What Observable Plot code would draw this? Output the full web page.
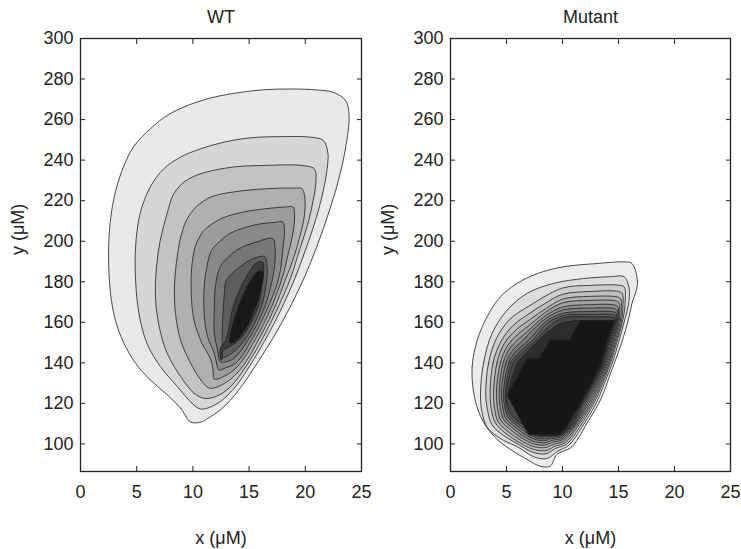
<!DOCTYPE html>
<html><head><meta charset="utf-8">
<script src="https://cdn.jsdelivr.net/npm/d3@7"></script>
<script src="https://cdn.jsdelivr.net/npm/@observablehq/plot@0.6"></script>
<style>
body{margin:0;background:#fff;}
#wrap{display:flex;width:741px;height:549px;overflow:hidden;background:#fff;}
#wrap svg{overflow:visible;}
</style></head><body><div id="wrap"></div>
<script>
const xTicks = [0, 5, 10, 15, 20, 25];
const yTicks = [100, 120, 140, 160, 180, 200, 220, 240, 260, 280, 300];

// ---- WT contour levels (outer -> inner), [x, y] vertices
const wt1 = [[9.8,110.8],[8.9,117.7],[7.7,124.3],[6.2,131.6],[4.9,139.8],[3.86,149.7],[3.1,161.1],[2.67,174.3],[2.5,190.7],[2.6,207],[3.0,221.8],[3.7,234.9],[4.7,246.4],[6.2,255.4],[7.7,262],[9.5,266.9],[11.6,270.7],[13.6,272.9],[16.0,274.6],[18.7,275.1],[21.1,274.6],[22.5,273.4],[23.6,269.3],[23.9,262],[23.7,250],[23.3,238],[22.7,225],[21.9,211],[21.0,197],[19.9,182],[18.6,167],[17.1,152],[15.5,138],[14.0,126],[12.6,117.5],[11.3,112.5],[10.7,110.8]];
const wt2 = [[10.7,117.2],[9.9,120.2],[8.6,128.4],[7.1,138.2],[5.9,149.7],[5.2,164.4],[4.9,180.8],[4.9,197.2],[5.3,213.6],[6.2,226.7],[7.4,235.7],[8.9,241.5],[10.7,245.6],[12.8,248.9],[15.1,251],[18.1,251.6],[20.5,251.3],[21.6,249.7],[22.0,244],[21.95,236],[21.6,225],[20.95,211],[20.1,197],[19.1,182],[17.9,167],[16.5,152],[15.0,138],[13.6,127],[12.2,120]];
const wt3 = [[11.0,122.5],[10.1,125],[8.9,133.3],[7.7,144.8],[7.0,157.9],[6.67,172.6],[6.76,187.4],[7.1,200.5],[7.7,213.6],[8.3,223.4],[9.3,229.5],[10.7,233.3],[13.6,236.6],[16.6,237.4],[19.6,237.4],[20.8,235.7],[20.95,230],[20.7,220],[20.2,208],[19.5,196],[18.7,182],[17.55,167],[16.2,152],[14.7,138],[13.3,128],[12.1,123.5]];
const wt4 = [[11.5,127.5],[10.7,131.6],[9.8,139.8],[8.9,151.3],[8.45,164.4],[8.36,177.5],[8.6,192.3],[9.0,203.8],[9.5,211.1],[10.3,217],[11.6,221.8],[13.6,224.3],[16.6,225.9],[19.0,226.2],[19.7,225.9],[19.95,222],[19.9,212],[19.45,201],[18.85,190],[18.3,182],[17.25,167],[15.9,152],[14.4,138],[13.0,130.5]];
const wt5 = [[11.9,132],[11.8,136],[11.6,141.5],[10.8,149.7],[10.1,161.1],[9.85,174.3],[9.9,187.4],[10.2,197.2],[10.6,202.1],[11.0,205.4],[12.5,211.1],[14.5,214.4],[16.6,216.1],[18.3,216.9],[18.9,216.9],[19.05,213],[18.9,204],[18.45,193],[17.95,182],[16.95,167],[15.6,152],[14.1,139],[13.0,134]];
const wt6 = [[12.3,136.5],[12.1,140],[11.9,144.8],[11.3,153],[11.0,164.4],[11.0,177.5],[11.3,189],[11.6,194.8],[11.9,197.2],[13.3,203.8],[15.4,207.9],[17.3,209.3],[18.0,209.5],[18.15,205],[18.0,196],[17.65,182],[16.65,167],[15.3,152],[13.85,140],[12.9,137.5]];
const wt7 = [[12.45,140.5],[12.2,146.4],[11.9,154.6],[11.9,166.1],[12.0,177.5],[12.3,185.7],[12.6,189],[13.9,195.6],[15.7,199.7],[17.1,201.3],[17.3,197.2],[17.3,190],[17.1,182],[16.35,167],[15.0,152],[13.6,142],[12.9,140.5]];
const wt8 = [[12.5,142.5],[12.6,148],[12.6,154.6],[12.7,166.1],[12.8,174.3],[13.0,180.8],[14.2,187.4],[15.4,191.5],[16.4,192.3],[16.6,187.4],[16.6,182],[16.05,167],[14.7,152],[13.4,144.5]];
const wt9 = [[12.5,141.5],[12.45,147],[12.9,151],[13.2,157],[13.5,166],[14.0,174],[14.8,183],[15.7,189.5],[16.2,189.8],[16.3,186],[16.2,180],[15.75,167],[14.4,153],[13.3,148],[12.7,146],[12.58,141.5]];
const wt10 = [[13.3,150],[13.5,158],[14.0,167],[14.6,175],[15.3,182],[15.9,185.5],[16.2,185.2],[16.15,179],[15.6,168],[14.9,159],[14.2,153],[13.6,150]];
const wtGrays = ["#e9e9e9","#d6d6d6","#c3c3c3","#b0b0b0","#9d9d9d","#8a8a8a","#777777","#5e5e5e","#3e3e3e","#181818"];

// ---- Mutant contour levels (outer -> inner)
const mut1 = [[2.08,125],[1.93,138],[2.38,151],[3.27,162.8],[4.46,172.6],[5.95,179.2],[7.74,184],[10.1,187.4],[13.1,189],[15.5,189.8],[16.2,189],[16.7,179.2],[16.2,169.3],[15.8,159.5],[15.06,146.4],[14.3,135],[13.4,121.8],[12.2,110.3],[11.2,101],[10.7,98],[9.5,94.8],[8.9,89],[8.0,89],[6.85,92.3],[5.36,97.2],[3.87,103.8],[2.68,113.6]];
const mut2 = [[2.68,125],[2.95,140],[3.72,154.6],[5.06,166],[6.85,174.3],[9.2,179.2],[11.9,181.6],[14.3,182.5],[15.5,182.5],[15.9,178],[15.95,171],[15.5,160],[15.0,150],[14.45,140],[13.75,130],[13.0,120],[11.7,108],[10.6,99.5],[9.6,96.5],[8.6,92.8],[7.5,93.5],[6.0,98.5],[4.5,102.5],[3.3,108],[2.8,116]];
const mut3 = [[3.15,125],[3.4,140],[4.1,152],[5.3,161.5],[7.0,168],[10.0,176.9],[12.5,178.2],[15.0,178.3],[15.5,177.5],[15.6,170],[15.35,160],[14.85,150],[14.3,140],[13.6,130],[12.8,120],[11.5,108],[10.4,100],[9.4,97.8],[8.5,95.1],[7.3,96],[6.0,100],[4.7,104.3],[3.7,109.5],[3.3,117]];
const mut4 = [[3.54,125],[3.8,140],[4.5,150.5],[5.6,158.5],[7.0,164.2],[8.5,169.5],[10.0,173.8],[12.5,175.2],[15.0,175.2],[15.35,174],[15.4,168.5],[15.25,160],[14.75,150],[14.2,140],[13.48,130],[12.65,120],[11.3,108],[10.3,100.8],[9.3,98.8],[8.5,96.7],[7.3,97.5],[6.0,101.2],[4.85,105.5],[4.0,110.5],[3.65,117]];
const mut5 = [[3.84,125],[4.15,140],[4.8,149.5],[5.9,156.5],[7.0,161],[8.5,166.7],[10.0,171.4],[12.5,172.8],[14.9,172.5],[15.2,171.5],[15.25,166.5],[15.15,160],[14.65,150],[14.1,140],[13.36,130],[12.5,120],[11.15,108],[10.2,101.6],[9.2,99.8],[8.5,98.2],[7.4,98.7],[6.2,102],[5.1,106.3],[4.25,111],[3.95,117]];
const mut6 = [[4.1,125],[4.45,140],[5.1,148.5],[6.1,154.5],[7.0,158.4],[8.5,165],[10.0,169.6],[12.5,170.8],[14.8,170.5],[15.05,169.5],[15.1,165.5],[15.05,160],[14.55,150],[14.0,140],[13.24,130],[12.35,120],[11.0,108],[10.1,102.3],[9.1,100.8],[8.5,99.5],[7.5,99.9],[6.4,102.8],[5.35,107],[4.5,111.5],[4.2,117.5]];
const mut7 = [[4.35,125],[4.7,140],[5.35,147.5],[6.3,152.8],[7.0,156.2],[8.5,163.3],[10.0,167.5],[12.5,168.7],[14.7,168.5],[14.95,167.5],[15.0,164.5],[14.97,160],[14.45,150],[13.9,140],[13.12,130],[12.2,120],[10.9,108],[10.0,102.9],[9.0,101.7],[8.5,100.6],[7.6,101],[6.6,103.5],[5.6,107.6],[4.75,112],[4.45,118]];
const mut8 = [[4.55,125],[4.95,140],[5.6,146.5],[6.5,151.2],[7.0,154.3],[8.5,161.8],[10.0,166.0],[12.5,167.0],[14.6,166.8],[14.85,166],[14.92,163.5],[14.9,160],[14.35,150],[13.8,140],[13.0,130],[12.05,120],[10.8,108],[9.9,103.5],[8.9,102.5],[8.5,101.7],[7.7,102],[6.8,104.2],[5.8,108.2],[4.95,112.5],[4.65,118.5]];
const mut9 = [[4.73,125],[5.2,140],[5.8,145.5],[6.7,149.8],[7.2,152.5],[8.5,160.3],[10.0,164.4],[12.5,165.3],[14.55,165.2],[14.75,164.7],[14.85,162.5],[14.82,160],[14.25,150],[13.7,140],[12.88,130],[11.9,120],[10.7,108],[9.8,104],[8.8,103.2],[8.5,102.6],[7.8,102.8],[7.0,104.8],[6.0,108.8],[5.15,113],[4.82,119]];
const mut10 = [[4.88,125],[5.4,140],[6.0,144.5],[6.85,148.8],[7.4,151.5],[8.5,158.8],[10.0,163.2],[12.5,163.9],[14.5,163.8],[14.7,163.4],[14.78,161.8],[14.75,160],[14.15,150],[13.62,140],[12.78,130],[11.8,120],[10.6,108],[9.75,104.4],[8.7,103.8],[7.9,103.6],[7.2,105.3],[6.2,109.3],[5.3,113.5],[4.95,119.5]];
const mut11 = [[5.0,125],[5.6,140],[6.15,143.8],[7.0,148],[7.55,150.8],[8.7,157.5],[10.0,162.1],[12.5,162.7],[14.5,162.5],[14.65,162.2],[14.7,161.2],[14.68,160],[14.05,150],[13.55,140],[12.7,130],[11.7,120],[10.5,108],[9.7,104.6],[8.5,104.1],[8.0,104.2],[7.4,105.6],[6.4,109.8],[5.5,114],[5.05,120]];
const mut12 = [[5.1,124],[5.5,133],[6.0,140.5],[7.2,147.5],[8.6,155],[9.8,159.5],[11.0,160.8],[14.6,160.8],[14.6,160],[13.98,150],[13.5,140],[12.62,130],[11.62,120],[10.4,108],[9.7,104.5],[7.0,104.5]];
const mut13 = [[5.1,124],[6.85,142],[7.9,142],[8.9,151.3],[10.6,151.3],[11.6,160.8],[14.6,160.8],[13.9,150],[13.42,140],[12.55,130],[11.55,120],[10.3,108],[9.65,104.6],[7.05,104.6]];
const mutGrays = ["#ececec","#dddddd","#cecece","#bfbfbf","#b0b0b0","#a0a0a0","#909090","#7f7f7f","#6d6d6d","#5b5b5b","#484848","#2c2c2c","#161616"];

const wtLevels = [wt1, wt2, wt3, wt4, wt5, wt6, wt7, wt8, wt9, wt10];
const mutLevels = [mut1, mut2, mut3, mut4, mut5, mut6, mut7, mut8, mut9, mut10, mut11, mut12, mut13];
const wtCurves = wtLevels.map(() => "catmull-rom-closed");
const mutCurves = mutLevels.map((_, i) => i >= 11 ? "linear-closed" : "catmull-rom-closed");

const FONT = "'Liberation Sans', Arial, Helvetica, sans-serif";

function makePanel(title, levels, grays, curves, width, marginRight) {
  const marks = levels.map((pts, i) => Plot.line(pts, {
    x: d => d[0], y: d => d[1], fill: grays[i], stroke: "#1e1e1e",
    strokeWidth: 0.8, curve: curves[i], clip: true
  }));
  marks.push(
    Plot.axisX(xTicks, {anchor: "bottom", tickSize: -5, tickPadding: 19, fontSize: 18, label: null, stroke: "#222"}),
    Plot.axisX(xTicks, {anchor: "top", tickSize: -5, tickFormat: () => "", label: null, stroke: "#222"}),
    Plot.axisY(yTicks, {anchor: "left", tickSize: -5, tickPadding: 12, fontSize: 18, label: null, stroke: "#222"}),
    Plot.axisY(yTicks, {anchor: "right", tickSize: -5, tickFormat: () => "", label: null, stroke: "#222"}),
    Plot.frame({stroke: "#222", strokeWidth: 1.3}),
    Plot.text([title], {text: d => d, frameAnchor: "top", lineAnchor: "middle", dy: -21, fontSize: 18}),
    Plot.text(["y (μM)"], {text: d => d, frameAnchor: "left", lineAnchor: "middle", rotate: -90, dx: -62, fontSize: 18}),
    Plot.text(["x (μM)"], {text: d => d, frameAnchor: "bottom", lineAnchor: "middle", dy: 67, fontSize: 18})
  );
  return Plot.plot({
    width, height: 549, marginLeft: 80, marginRight, marginTop: 38, marginBottom: 78,
    x: {domain: [0, 25]}, y: {domain: [86.4, 300]},
    style: {fontFamily: FONT, color: "#222", background: "transparent", overflow: "visible"},
    marks
  });
}

const wrap = document.getElementById("wrap");
wrap.appendChild(makePanel("WT", wtLevels, wtGrays, wtCurves, 370, 9));
wrap.appendChild(makePanel("Mutant", mutLevels, mutGrays, mutCurves, 371, 11));
</script></body></html>
